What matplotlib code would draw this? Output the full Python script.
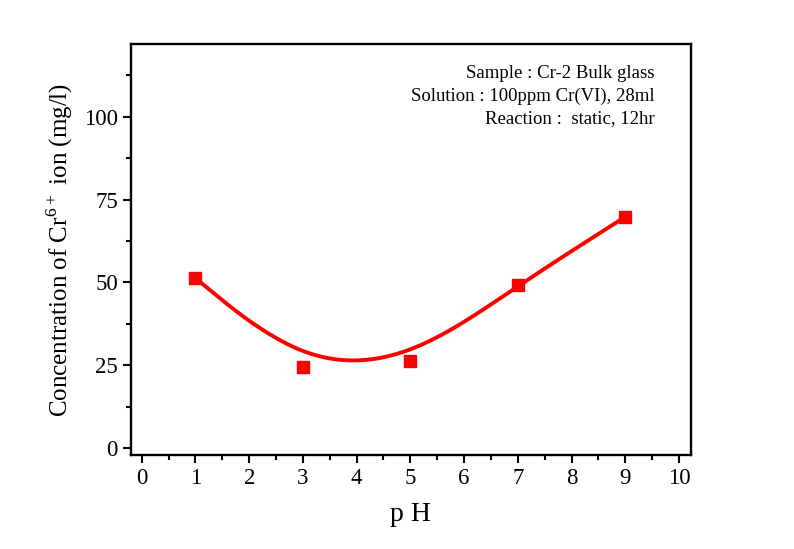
import numpy as np
import matplotlib
matplotlib.use("Agg")
import matplotlib.pyplot as plt
from matplotlib.ticker import MultipleLocator

ph = [1, 3, 5, 7, 9]
conc = [51.3, 24.6, 26.3, 49.2, 69.8]
x_ticks = list(range(0, 11))
y_ticks = [0, 25, 50, 75, 100]
info_lines = ["Sample : Cr-2 Bulk glass",
              "Solution : 100ppm Cr(VI), 28ml",
              "Reaction :  static, 12hr"]

plt.rcParams['font.family'] = ['Liberation Serif', 'DejaVu Serif']
plt.rcParams['mathtext.fontset'] = 'custom'
plt.rcParams['mathtext.rm'] = 'Liberation Serif'


def uniform_bspline(px, py, n_seg=60):
    # uniform cubic B-spline, end points tripled so the curve meets them
    px = np.concatenate([[px[0]] * 2, px, [px[-1]] * 2])
    py = np.concatenate([[py[0]] * 2, py, [py[-1]] * 2])
    u = np.linspace(0, 1, n_seg)
    b0 = (1 - u) ** 3 / 6
    b1 = (3 * u ** 3 - 6 * u ** 2 + 4) / 6
    b2 = (-3 * u ** 3 + 3 * u ** 2 + 3 * u + 1) / 6
    b3 = u ** 3 / 6
    cx, cy = [], []
    for i in range(len(px) - 3):
        cx.append(b0 * px[i] + b1 * px[i + 1] + b2 * px[i + 2] + b3 * px[i + 3])
        cy.append(b0 * py[i] + b1 * py[i + 1] + b2 * py[i + 2] + b3 * py[i + 3])
    return np.concatenate(cx), np.concatenate(cy)


fig = plt.figure(figsize=(7.94, 5.49), dpi=100)
ax = fig.add_axes([0.165, 0.171, 0.705, 0.749])

cx, cy = uniform_bspline(np.array(ph, float), np.array(conc, float))
ax.plot(cx, cy, color='#ff0000', lw=2.8, zorder=2)
ax.plot(ph, conc, 's', color='#ff0000', ms=9, zorder=3)

ax.set_xlim(-0.2, 10.22)
ax.set_ylim(-2.1, 122)
ax.set_xticks(x_ticks)
ax.set_yticks(y_ticks)
ax.xaxis.set_minor_locator(MultipleLocator(0.5))
ax.yaxis.set_minor_locator(MultipleLocator(12.5))
ax.tick_params(which='major', direction='out', length=6, width=1.5, labelsize=16.5, top=False, right=False)
ax.tick_params(which='minor', direction='out', length=3.5, width=1.5, top=False, right=False)
for s in ax.spines.values():
    s.set_linewidth(1.7)

ax.set_xlabel('p H', fontsize=20, labelpad=9)
ax.set_ylabel(r'Concentration of Cr$^{6+}$ ion (mg/l)', fontsize=18, labelpad=6)

ax.text(0.935, 0.948, "\n".join(info_lines), transform=ax.transAxes,
        ha='right', va='top', fontsize=13.5, linespacing=1.4, multialignment='right')

fig.savefig('out.png', dpi=100)
